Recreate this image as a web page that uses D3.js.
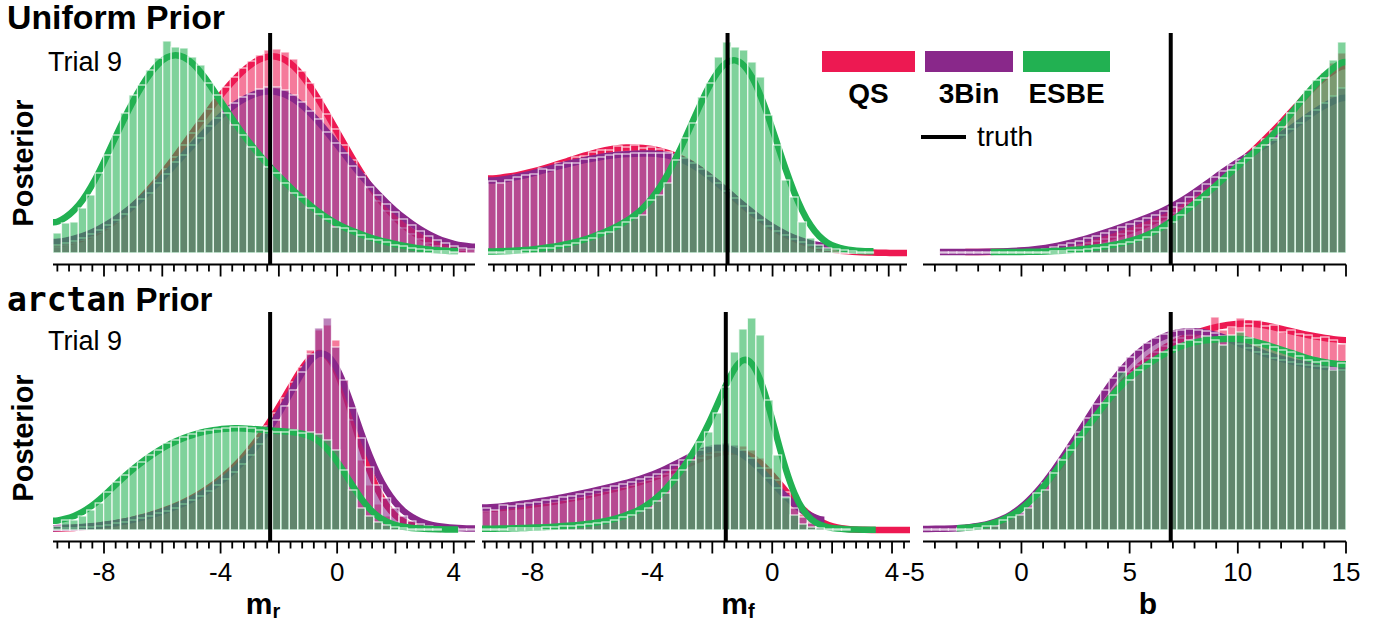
<!DOCTYPE html>
<meta charset='utf-8'>
<head>
  <title>Posterior histograms, trial 9</title>
</head>

<style>
body {
  margin: 0;
  background: #fff;
  font-family: "Liberation Sans", Arial, Helvetica, sans-serif;
}

text {
  fill: #000;
}

.bar {
  stroke: #fff;
  stroke-opacity: 0.75;
  stroke-width: 1.3;
  fill-opacity: 0.58;
}

.kde {
  fill: none;
  stroke-width: 6.5;
}

.spine, .tick {
  stroke: #000;
  stroke-width: 1.8;
}

.truth {
  stroke: #000;
  stroke-width: 4;
}

.ticklabel {
  font-size: 26px;
  text-anchor: middle;
}

.title {
  font-size: 33px;
  font-weight: bold;
}

.mono {
  font-family: "DejaVu Sans Mono", monospace;
}

.trial {
  font-size: 27px;
}

.ylabel {
  font-size: 29px;
  font-weight: bold;
  text-anchor: middle;
}

.xlabel {
  font-size: 30px;
  font-weight: bold;
  text-anchor: middle;
}

.legend-label {
  font-size: 28px;
  font-weight: bold;
  text-anchor: middle;
}
</style>

<body>
  <svg width='1385' height='622'></svg>

  <script src='https://cdn.jsdelivr.net/npm/d3@7/dist/d3.min.js'></script>
  <script>
// ---- data: posterior histograms (50 bins per panel, arbitrary density units) ----
var methods = ['QS', '3Bin', 'ESBE'];
var colors = ['#ED1952', '#89288A', '#22B152'];

var truthMr = -2.3, truthMf = -1.55, truthB = 6.9;

// Uniform prior, m_r
var qsUniformMr = [6,8,10,13,16,21,25,31,38,45,54,63,73,84,96,108,120,132,144,155,166,176,185,192,198,203,204,201,194,182,170,155,139,124,108,93,79,65,52,42,33,25,19,14,10,7,5,4,3,2];
var bin3UniformMr = [8,10,12,15,19,23,28,33,39,46,54,60,70,79,91,98,108,115,127,135,146,150,156,159,164,166,166,163,158,151,142,134,121,110,100,87,76,66,58,49,41,34,28,22,17,13,10,7,5,4];
var esbeUniformMr = [20,30,31,45,58,80,98,118,140,158,168,183,195,212,206,205,196,188,170,158,140,128,118,106,96,86,80,70,60,56,45,39,34,26,25,22,18,14,13,11,8,7,5,4,3,2,2,1,null,null];

// Uniform prior, m_f
var qsUniformMf = [72,75,74,78,79,81,85,85,90,91,96,97,101,103,103,107,106,108,105,106,104,101,99,95,90,84,77,70,62,54,46,39,32,26,21,17,13,10,7,5,3,2,1,1,1,0,0,0,0,0];
var bin3UniformMf = [72,70,73,76,78,79,84,83,88,90,90,94,95,96,98,99,99,100,100,100,100,100,98,95,90,84,77,70,62,55,47,40,33,27,22,18,14,11,8,5,3,null,null,null,null,null,null,null,null,null];
var esbeUniformMf = [1,1,2,2,3,3,5,5,7,8,10,13,15,20,21,26,31,35,38,53,58,70,93,115,130,156,170,196,211,206,203,191,176,138,108,73,56,31,15,8,5,4,3,2,1,1,null,null,null,null];

// Uniform prior, b
var qsUniformB = [null,null,null,null,null,1,1,1,1,1,1,2,2,3,3,4,5,6,8,10,12,14,16,19,22,25,28,32,36,40,45,50,56,62,68,75,82,90,98,106,114,122,131,140,150,160,170,180,190,200];
var bin3UniformB = [null,null,1,1,1,1,1,1,1,1,2,2,3,3,4,6,8,10,12,15,17,20,23,26,29,32,35,38,42,46,50,56,62,69,76,82,88,93,98,103,108,113,118,124,130,137,143,150,157,165];
var esbeUniformB = [null,null,null,null,null,null,null,null,1,1,1,1,1,1,1,2,2,3,3,4,5,6,8,9,11,13,16,21,25,31,38,46,53,56,66,75,83,90,95,105,108,115,126,140,151,163,173,175,193,211];

// arctan prior, m_r
var qsArctanMr = [1,1,2,2,3,4,5,6,8,10,12,14,17,20,23,27,31,36,41,47,54,61,70,80,92,104,117,132,148,163,180,200,205,190,150,110,70,45,26,14,8,4,2,1,1,0,null,null,null,null];
var bin3ArctanMr = [1,2,2,3,3,4,5,7,8,10,12,14,17,19,22,26,30,34,39,45,51,58,66,75,86,97,110,124,140,158,176,202,212,183,150,122,92,63,45,32,22,14,9,6,4,3,2,2,1,1];
var esbeArctanMr = [4,10,10,14,20,27,38,48,55,63,68,75,80,87,90,93,96,99,100,101,102,103,103,102,100,99,98,98,100,97,98,96,90,80,60,40,22,14,8,5,3,2,1,1,1,1,0,0,null,null];

// arctan prior, m_f
var qsArctanMf = [19,21,22,23,24,25,26,27,28,30,31,33,35,37,39,41,43,45,48,50,53,56,60,64,68,72,75,78,80,82,84,80,72,62,50,38,26,16,9,5,2,1,0,0,0,0,0,0,0,0];
var bin3ArctanMf = [22,20,25,24,26,27,28,30,31,33,34,36,38,40,42,44,46,48,51,53,56,60,65,70,75,80,84,86,87,85,80,72,62,52,42,32,22,13,7,3,null,null,null,null,null,null,null,null,null,null];
var esbeArctanMf = [1,1,1,2,2,2,2,3,3,4,4,5,6,7,8,10,13,15,19,22,29,37,50,60,70,88,98,117,143,178,201,212,195,130,75,33,15,6,3,2,1,1,1,0,0,0,null,null,null,null];

// arctan prior, b
var qsArctanB = [null,null,null,null,null,1,1,3,5,8,12,16,24,33,45,55,67,78,92,104,116,128,138,148,158,165,172,178,184,188,192,195,197,199,213,200,203,212,206,210,204,205,198,200,196,195,192,193,190,186];
var bin3ArctanB = [1,1,1,1,2,2,3,4,6,9,13,18,26,36,47,58,71,84,98,112,126,140,152,164,173,180,187,192,196,199,200,201,200,199,197,194,190,186,182,178,176,172,170,168,166,165,164,163,162,160];
var esbeArctanB = [null,null,null,null,1,1,2,4,4,10,13,15,22,37,40,57,70,80,93,103,115,127,135,158,150,160,166,172,178,180,186,190,188,194,190,185,195,198,192,185,186,183,180,178,174,170,168,169,160,167];

var mTickLabels = [-8, -4, 0, 4];
var bTickLabels = [-5, 0, 5, 10, 15];

// ---- layout ----
var rows = [
  {base: 253, top: 33, spine: 264.5, title: 29, trial: 71, ylab: 163},
  {base: 530, top: 312, spine: 541.5, title: 311, trial: 350, ylab: 438}
];

var panels = [
  {row: 0, dom: [-9.75, 4.73], rng: [53, 475], kind: 'm', truth: truthMr, data: [qsUniformMr, bin3UniformMr, esbeUniformMr]},
  {row: 0, dom: [-9.8, 4.63], rng: [488, 907], kind: 'm', truth: truthMf, data: [qsUniformMf, bin3UniformMf, esbeUniformMf]},
  {row: 0, dom: [-4.55, 15], rng: [923, 1346], kind: 'b', truth: truthB, data: [qsUniformB, bin3UniformB, esbeUniformB]},
  {row: 1, dom: [-9.75, 4.73], rng: [53, 475], kind: 'm', truth: truthMr, data: [qsArctanMr, bin3ArctanMr, esbeArctanMr]},
  {row: 1, dom: [-9.69, 4.6], rng: [482, 910], kind: 'm', truth: truthMf, data: [qsArctanMf, bin3ArctanMf, esbeArctanMf]},
  {row: 1, dom: [-4.55, 15], rng: [923, 1346], kind: 'b', truth: truthB, data: [qsArctanB, bin3ArctanB, esbeArctanB]}
];

var svg = d3.select('svg');

// gaussian smoothing of the bar heights for the density curve
function smooth(vals, sigma) {
  return vals.map(function(v, i) {
    if (v === null) return null;
    var s = 0, ws = 0;
    for (var k = -6; k <= 6; k++) {
      var u = vals[i + k];
      if (u === undefined || u === null) continue;
      var w = Math.exp(-k * k / (2 * sigma * sigma));
      s += w * u;
      ws += w;
    }
    return s / ws;
  });
}

panels.forEach(function(p) {
  var row = rows[p.row];
  var x = d3.scaleLinear().domain(p.dom).range(p.rng);
  var y = d3.scaleLinear().domain([0, 220]).range([row.base, row.base - 220]);
  var nb = p.data[0].length;
  var bw = (p.dom[1] - p.dom[0]) / nb;
  var g = svg.append('g').attr('class', 'panel');

  p.data.forEach(function(vals, si) {
    var sm = smooth(vals, 2);
    var pts = [];
    var first = vals.findIndex(function(v) { return v !== null; });
    var last = vals.length - 1;
    while (vals[last] === null) last--;
    pts.push([p.dom[0] + first * bw, sm[first]]);
    for (var i = first; i <= last; i++) pts.push([p.dom[0] + (i + 0.5) * bw, sm[i]]);
    pts.push([p.dom[0] + (last + 1) * bw, sm[last]]);

    var line = d3.line()
      .x(function(d) { return x(d[0]); })
      .y(function(d) { return y(d[1]); })
      .curve(d3.curveBasis);

    g.append('path')
      .attr('class', 'kde')
      .attr('stroke', colors[si])
      .attr('d', line(pts));

    var bins = vals.map(function(v, i) {
      return {x0: p.dom[0] + i * bw, x1: p.dom[0] + (i + 1) * bw, v: v};
    }).filter(function(d) { return d.v !== null && d.v > 0; });

    g.selectAll('rect.s' + si)
      .data(bins)
      .enter()
      .append('rect')
      .attr('class', 'bar s' + si)
      .attr('fill', colors[si])
      .attr('x', function(d) { return x(d.x0); })
      .attr('width', function(d) { return x(d.x1) - x(d.x0); })
      .attr('y', function(d) { return y(d.v); })
      .attr('height', function(d) { return y(0) - y(d.v); });
  });

  // axis
  g.append('line')
    .attr('class', 'spine')
    .attr('x1', p.rng[0]).attr('x2', p.rng[1])
    .attr('y1', row.spine).attr('y2', row.spine);

  var majorStep = p.kind === 'm' ? 2 : 5;
  var minorStep = p.kind === 'm' ? 0.4 : 1;
  var ticks = [];
  for (var t = Math.ceil(p.dom[0] / minorStep); t * minorStep <= p.dom[1] + 1e-9; t++) {
    var v = +(t * minorStep).toFixed(2);
    var major = Math.abs(v / majorStep - Math.round(v / majorStep)) < 1e-6;
    ticks.push({v: v, major: major});
  }

  g.selectAll('line.tick')
    .data(ticks)
    .enter()
    .append('line')
    .attr('class', 'tick')
    .attr('x1', function(d) { return x(d.v); })
    .attr('x2', function(d) { return x(d.v); })
    .attr('y1', row.spine)
    .attr('y2', function(d) { return row.spine + (d.major ? 12 : 7); });

  if (p.row === 1) {
    g.selectAll('text.ticklabel')
      .data(p.kind === 'm' ? mTickLabels : bTickLabels)
      .enter()
      .append('text')
      .attr('class', 'ticklabel')
      .attr('x', function(d) { return x(d); })
      .attr('y', 581)
      .text(function(d) { return String(d); });
  }

  // truth
  g.append('line')
    .attr('class', 'truth')
    .attr('x1', x(p.truth)).attr('x2', x(p.truth))
    .attr('y1', row.top).attr('y2', row.spine);
});

// row titles and labels
svg.append('text')
  .attr('class', 'title')
  .attr('x', 7).attr('y', rows[0].title)
  .attr('textLength', 218)
  .attr('lengthAdjust', 'spacingAndGlyphs')
  .text('Uniform Prior');
var t2 = svg.append('text').attr('class', 'title').attr('x', 7).attr('y', rows[1].title);
t2.append('tspan').attr('class', 'mono').text('arctan');
t2.append('tspan').text(' Prior');

rows.forEach(function(r) {
  svg.append('text').attr('class', 'trial').attr('x', 48).attr('y', r.trial).text('Trial 9');
  svg.append('text')
    .attr('class', 'ylabel')
    .attr('transform', 'translate(33,' + r.ylab + ') rotate(-90)')
    .text('Posterior');
});

var xl = [
  {x: 263, main: 'm', sub: 'r'},
  {x: 738, main: 'm', sub: 'f'},
  {x: 1148, main: 'b', sub: ''}
];
xl.forEach(function(d) {
  var t = svg.append('text').attr('class', 'xlabel').attr('x', d.x).attr('y', 614);
  t.append('tspan').text(d.main);
  if (d.sub) t.append('tspan').attr('font-size', '20px').attr('dy', 4).text(d.sub);
});

// legend
var legendX = [[822, 915], [925, 1013], [1023, 1110]];
methods.forEach(function(m, i) {
  svg.append('rect')
    .attr('x', legendX[i][0]).attr('y', 51)
    .attr('width', legendX[i][1] - legendX[i][0]).attr('height', 21)
    .attr('fill', colors[i]);
  svg.append('text')
    .attr('class', 'legend-label')
    .attr('x', (legendX[i][0] + legendX[i][1]) / 2)
    .attr('y', 103)
    .text(m);
});
svg.append('line')
  .attr('class', 'truth')
  .attr('x1', 921).attr('x2', 966)
  .attr('y1', 137).attr('y2', 137);
svg.append('text')
  .attr('x', 977).attr('y', 146)
  .attr('font-size', '28px')
  .text('truth');
  </script>
</body>
</html>
